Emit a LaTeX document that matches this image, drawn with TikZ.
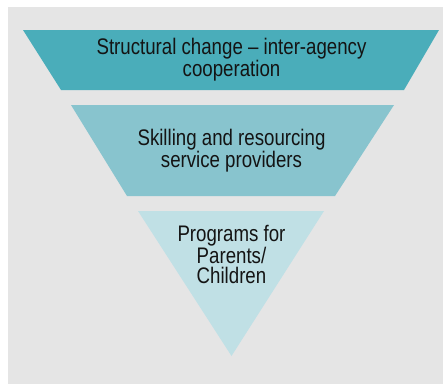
\documentclass[tikz,border=0pt]{standalone}
\usepackage{fontspec}
\setmainfont{Liberation Sans}[FakeStretch=0.83]

\definecolor{bandone}{HTML}{4AADBA}
\definecolor{bandtwo}{HTML}{88C4CE}
\definecolor{bandthree}{HTML}{C0E0E5}
\definecolor{panel}{HTML}{E5E5E5}
\definecolor{ink}{HTML}{141414}

\begin{document}
\begin{tikzpicture}[x=1pt,y=-1pt]
  \def\XMID{231.5}
  \def\YONE{30}
  \def\YTWO{90}
  \def\YTHREE{105}
  \def\YFOUR{196}
  \def\YFIVE{211}
  \def\YAPEX{356}

  \tikzset{
      bandtext/.style={align=center, inner sep=0pt, text=ink,
        font=\fontsize{22.5}{20}\selectfont},
  }

  \useasboundingbox (0,0) rectangle (443,384);
  \fill [panel] (8,7) rectangle (443,384);

  \fill [bandone] (23,\YONE) -- (439,\YONE) -- (404,\YTWO) -- (61,\YTWO) -- cycle;
  \fill [bandtwo] (71,\YTHREE) -- (394,\YTHREE) -- (335,\YFOUR) -- (127,\YFOUR) -- cycle;
  \fill [bandthree] (138,\YFIVE) -- (324,\YFIVE) -- (\XMID,\YAPEX) -- cycle;

  \node [bandtext] (cooperation) at (\XMID,60)
    {Structural change -- inter-agency\\cooperation};
  \node [bandtext] (skilling) at (\XMID,151)
    {Skilling and resourcing\\service providers};
  \node [bandtext] (programs) at (\XMID,254)
    {Programs for\\Parents/\\Children};
\end{tikzpicture}
\end{document}
